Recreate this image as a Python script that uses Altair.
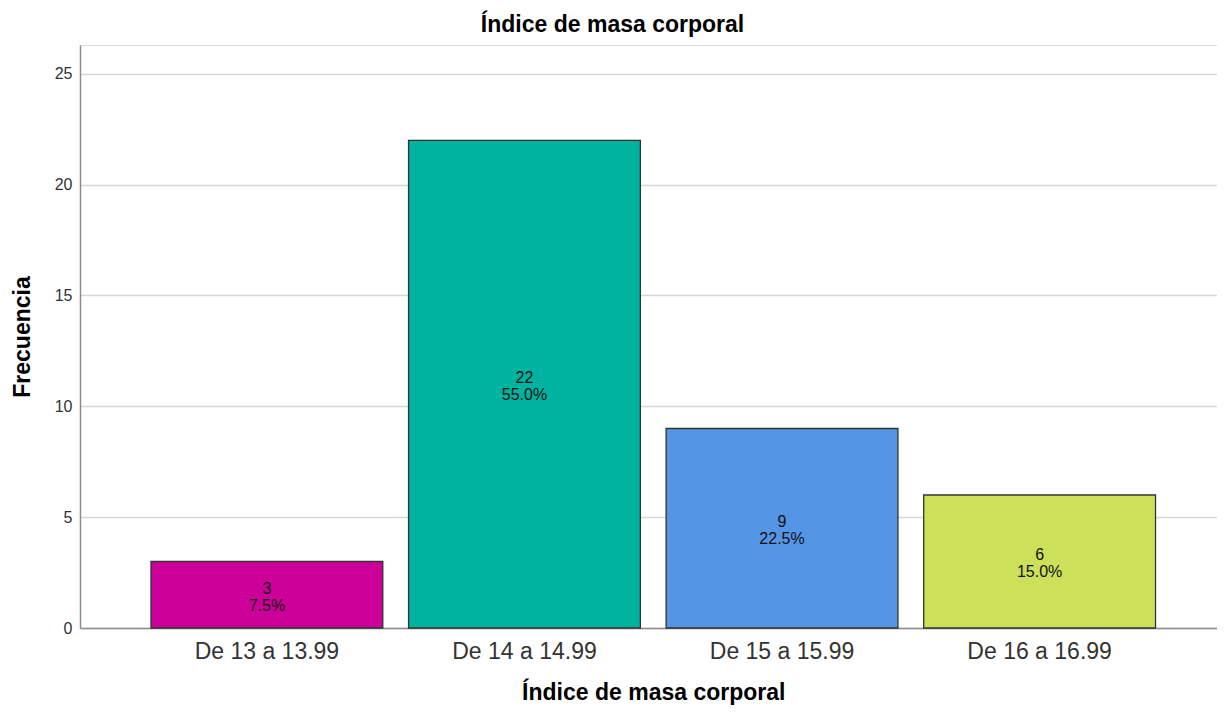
import altair as alt
import pandas as pd

categories = ["De 13 a 13.99", "De 14 a 14.99", "De 15 a 15.99", "De 16 a 16.99"]
counts = [3, 22, 9, 6]
percents = ["7.5%", "55.0%", "22.5%", "15.0%"]
colors = ["#CC0099", "#00B3A0", "#5595E5", "#CDE05A"]

df = pd.DataFrame({"cat": categories, "count": counts, "pct": percents})

FONT = "Liberation Sans"
PLOT_W = 1137
PLOT_H = 583

x_enc = alt.X(
    "cat:N",
    sort=categories,
    scale=alt.Scale(range=[0, 1146.5], paddingInner=0.1, paddingOuter=0.2756),
    axis=alt.Axis(
        title="Índice de masa corporal",
        titleFont=FONT, titleFontSize=23, titleFontWeight="bold", titleColor="#000000",
        titleBaseline="alphabetic", titleY=71,
        labelFont=FONT, labelFontSize=23, labelColor="#333333", labelPadding=12,
        labelAngle=0, ticks=False, tickSize=0,
        domainColor="#8C8C8C", domainWidth=1.5, grid=False,
    ),
)

base = alt.Chart(df)

bars = base.mark_bar(stroke="#333333", strokeWidth=1.3).encode(
    x=x_enc,
    y=alt.Y(
        "count:Q",
        scale=alt.Scale(domain=[0, 26.3], nice=False),
        axis=alt.Axis(
            title="Frecuencia", values=[0, 5, 10, 15, 20, 25],
            titleFont=FONT, titleFontSize=23, titleFontWeight="bold", titleColor="#000000",
            titleX=-58, titleY=PLOT_H / 2, titleBaseline="middle", titleAngle=-90,
            labelFont=FONT, labelFontSize=16, labelColor="#333333", labelPadding=8,
            ticks=False, tickSize=0,
            domainColor="#8C8C8C", domainWidth=1.5,
            grid=True, gridColor="#D6D6D6", gridWidth=1.5,
        ),
    ),
    color=alt.Color("cat:N", sort=categories,
                    scale=alt.Scale(domain=categories, range=colors), legend=None),
)

lbl_count = base.transform_calculate(mid="datum.count / 2").mark_text(
    font=FONT, fontSize=16, color="#111111", baseline="middle", dy=-6
).encode(x=alt.X("cat:N", sort=categories), y=alt.Y("mid:Q"), text="count:Q")

lbl_pct = base.transform_calculate(mid="datum.count / 2").mark_text(
    font=FONT, fontSize=16, color="#111111", baseline="middle", dy=11
).encode(x=alt.X("cat:N", sort=categories), y=alt.Y("mid:Q"), text="pct:N")

chart = alt.layer(bars, lbl_count, lbl_pct).properties(
    width=PLOT_W,
    height=PLOT_H,
    autosize=alt.AutoSizeParams(type="none"),
    padding={"left": 72, "top": 37, "right": 0, "bottom": 77},
    title=alt.TitleParams(
        "Índice de masa corporal", font=FONT, fontSize=23, fontWeight="bold",
        color="#000000", anchor="middle", baseline="alphabetic", offset=12, dx=-36, dy=22,
    ),
).configure_view(stroke=None).configure(background="#FFFFFF")

chart.save("out.html", embed_options={"renderer": "svg", "actions": False})
